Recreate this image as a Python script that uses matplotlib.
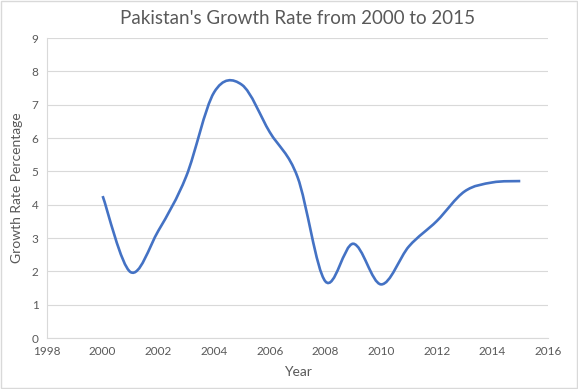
import numpy as np
import matplotlib.pyplot as plt
from matplotlib.path import Path
from matplotlib.patches import PathPatch

plt.rcParams['font.family'] = ['Lato', 'DejaVu Sans']

years = [2000, 2001, 2002, 2003, 2004, 2005, 2006, 2007,
         2008, 2009, 2010, 2011, 2012, 2013, 2014, 2015]
growth = [4.26, 1.98, 3.22, 4.85, 7.37, 7.60, 6.18, 4.83,
          1.70, 2.83, 1.61, 2.75, 3.51, 4.40, 4.67, 4.71]

text_col = '#595959'
line_col = '#4472C4'


def smooth_path(x, y):
    # Excel style smoothed line: cubic bezier segments through each point
    pts = np.column_stack([x, y]).astype(float)
    ext = np.vstack([pts[0], pts, pts[-1]])
    verts = [pts[0]]
    codes = [Path.MOVETO]
    for i in range(len(pts) - 1):
        p0, p1, p2, p3 = ext[i], ext[i + 1], ext[i + 2], ext[i + 3]
        c1 = p1 + (p2 - p0) / 6
        c2 = p2 - (p3 - p1) / 6
        verts += [c1, c2, p2]
        codes += [Path.CURVE4] * 3
    return Path(verts, codes)


fig = plt.figure(figsize=(5.78, 3.89), dpi=100)
ax = fig.add_axes([0.0813, 0.131, 0.867, 0.771])

patch = PathPatch(smooth_path(years, growth), facecolor='none',
                  edgecolor=line_col, linewidth=1.9, capstyle='butt', zorder=3)
ax.add_patch(patch)

ax.set_xlim(1998, 2016)
ax.set_ylim(0, 9)
ax.set_xticks(np.arange(1998, 2017, 2))
ax.set_yticks(np.arange(0, 10, 1))
ax.grid(axis='y', color='#d9d9d9', linewidth=0.8)
ax.set_axisbelow(True)
ax.tick_params(length=0, labelsize=8.5, colors=text_col, pad=6)
for s in ['top', 'right']:
    ax.spines[s].set_visible(False)
for s in ['left', 'bottom']:
    ax.spines[s].set_color('#d9d9d9')
    ax.spines[s].set_linewidth(0.8)

ax.set_title("Pakistan's Growth Rate from 2000 to 2015", fontsize=13.5,
             color=text_col, pad=10)
ax.set_xlabel('Year', fontsize=10, color=text_col, labelpad=6)
ax.set_ylabel('Growth Rate Percentage', fontsize=10, color=text_col, labelpad=6)

fig.patches.append(plt.Rectangle((0.002, 0.003), 0.996, 0.994, transform=fig.transFigure,
                                 fill=False, edgecolor='#d9d9d9', linewidth=1))

fig.savefig('out.png', dpi=100)
